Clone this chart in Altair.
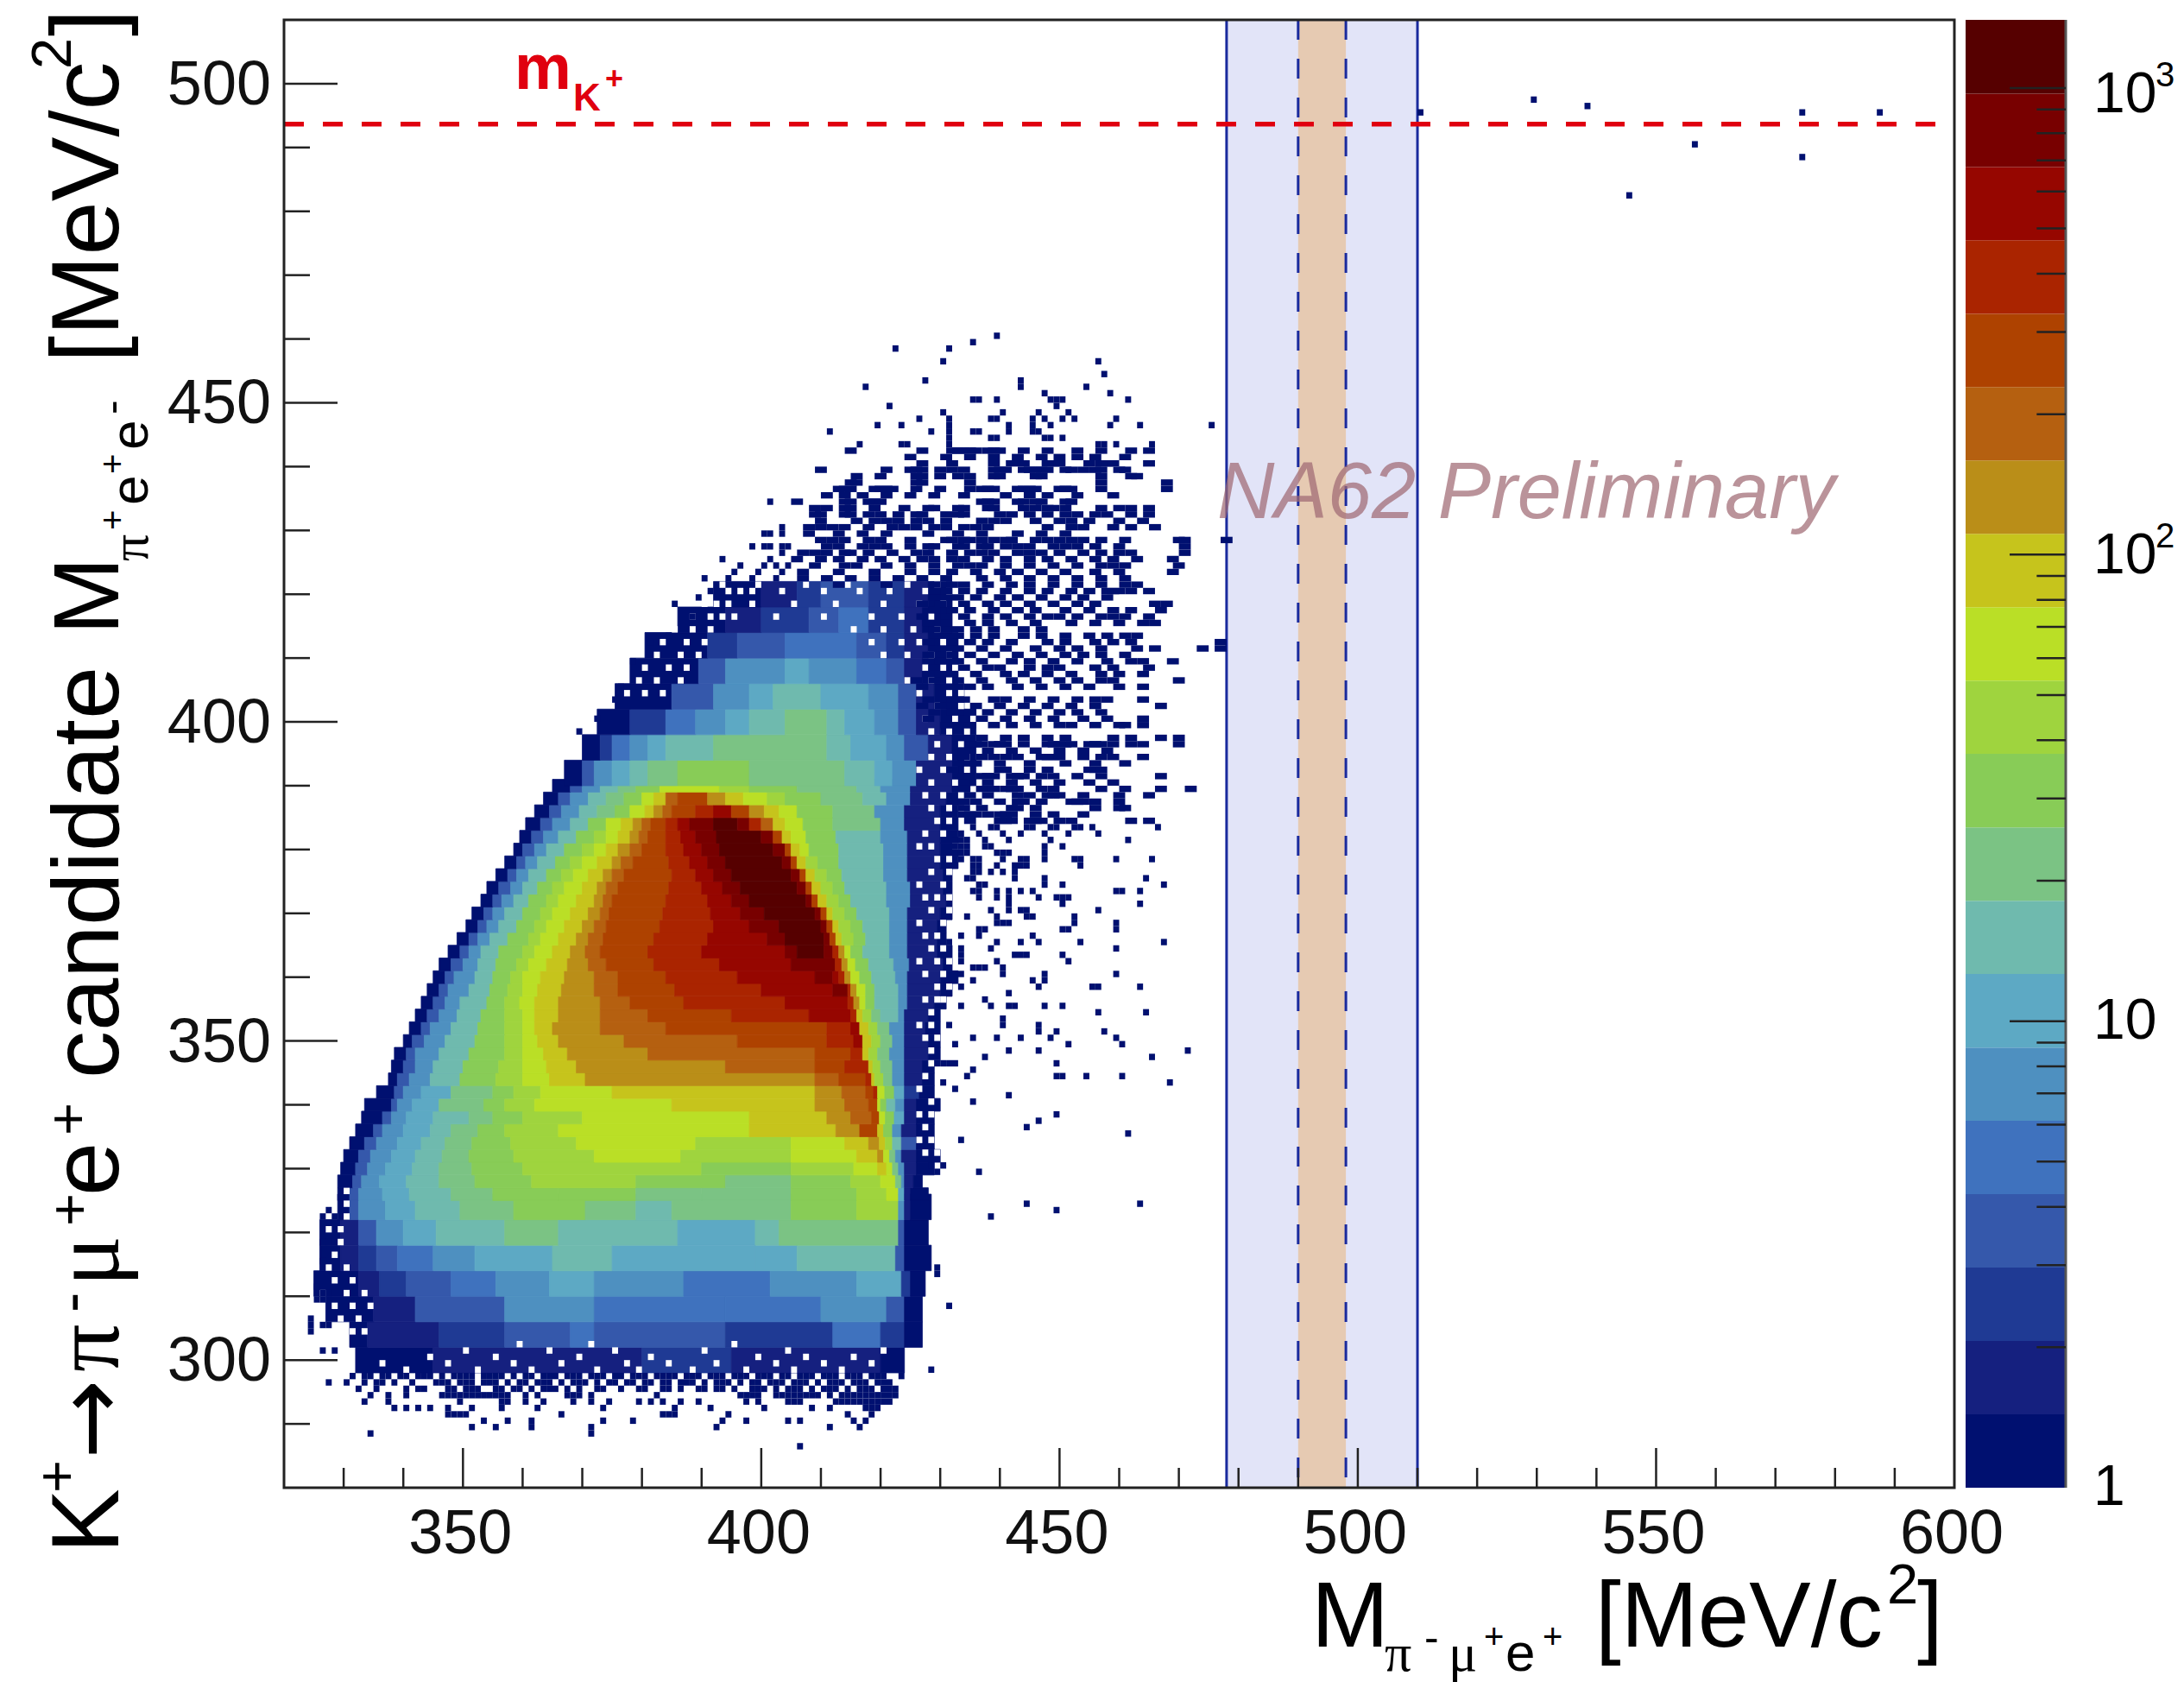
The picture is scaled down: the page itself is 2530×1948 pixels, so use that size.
import altair as alt
import pandas as pd

alt.data_transformers.disable_max_rows()

PALETTE = ["#001070","#15207F","#1F3A94","#3558AB","#3F72BE","#4E90C0","#5DA9C4","#6FBAAE","#7BC384","#88CC57",
           "#9FD43E","#BADF26","#C6C41C","#BA8E18","#B56010","#AE4200","#AA2400","#960600","#780000","#560000"]
BAND_EDGES = [1,1.436,2.063,2.964,4.257,6.115,8.78,12.62,18.12,26.03,37.4,53.7,77.1,110.8,159.1,228.6,328,471.6,677,973,1400]
BAR_TICKS_MINOR = [2,3,4,5,6,7,8,9,20,30,40,50,60,70,80,90,200,300,400,500,600,700,800,900]
BAR_TICKS_MAJOR = [10,100,1000]

# dense body: (centre y, half height, run starts, run levels, end of the last run)
L24 = [0,3,5,7,9,10,11,12,13,14,15,16,17,18,19,18,15,12,10,9,7,5,1,0]
ROWS = [
(300,2,[332,345,380,395,420],[0,1,2,1,0],424),
(304,2,[331,334,346,357,368,372,394,412,420,424],[0,1,2,3,4,3,2,4,2,0],427),
(308,2,[327,335,342,357,372,394,410,421,424],[0,1,3,5,4,4,5,3,0],427),
(312,2,[325,332.5,336,340.5,348,355.5,364.5,372,387,401.5,416,423.5,425],[0,1,2,3,4,5,6,5,4,5,6,2,0],427.5),
(316,2,[326,329.5,332.5,335.5,339,345,352,365,375,399,406,422.5,424],[0,1,2,3,4,5,6,7,6,6,7,3,0],428.5),
(320,2,[326,329.5,332.5,335.5,340,345.5,357,366,386,399,403,423,424],[0,1,3,5,6,7,8,7,6,7,8,3,0],428),
(324,2,[329,331,332.5,337,342,349.5,358.5,370.5,379,385,405,416,423,424,425],[0,3,5,6,7,8,9,8,7,8,9,10,5,1,0],428.5),
(326,1,[329,331,332.5,336.5,341,348,355,366,379,390,405,416,421,423,424,425],[0,3,5,6,7,8,9,9,8,8,9,10,11,6,1,0],428),
(328,1,[329,331.5,333,336,340.5,346,352,361.5,379,394,405,415,420,422.5,423.5,424,425.5],[0,3,5,6,7,8,9,10,9,8,9,10,11,8,5,1,0],427),
(330,1,[329.5,332,334,337,341.5,346,351.5,360,390,405,415.5,419.5,421,422,423,424,426],[0,3,5,6,7,8,9,10,9,10,11,12,11,8,5,1,0],429),
(332,1,[330,332.5,334.5,338,342,346.5,351,358.5,372,386.5,405,416,419.5,420.5,421.5,422.5,423.5,426],[0,3,5,6,7,8,9,10,11,10,11,12,13,11,8,5,1,0],430),
(334,1,[331,333.5,335.5,339,343,347,351.5,358,369,389,405,414,418,419.8,420.8,422,423.5,426],[0,3,5,6,7,8,9,10,11,10,11,12,13,12,10,7,3,0],429),
(336,1,[332,335,336.5,340,344.5,348,352.5,357,366,398,412.5,416.5,419.5,420.5,422,423.5,426],[0,3,5,6,7,8,9,10,11,12,13,15,12,9,5,1,0],429),
(338,1,[333,336.5,338,340.5,345,351,355,360,370,398,411,415,418.5,419.8,420.8,422.3,424,426],[0,3,5,6,7,8,9,10,11,12,13,14,15,11,9,6,1,0],429),
(340,1,[333.5,338,339,341.5,346,353.5,357,362,385,409,414,418,419.5,420,421,422.5,424,426],[0,3,5,6,8,9,10,11,12,13,14,15,11,9,7,5,1,0],430),
(342,1,[335.5,338.5,340,343,348,355,358.5,363,375,409,413.5,417.5,418.8,419.5,420.7,422.3,424,426.5],[0,3,5,6,8,9,10,11,12,13,14,15,16,11,9,6,2,0],429),
(344,1,[337.5,339,341,344.5,349.5,355.5,360,364.5,370.5,409,413,417.5,418.5,419,420.5,422,424,427],[0,3,5,7,9,10,11,12,13,14,15,16,12,10,8,5,1,0],429),
(346,1,[338,340,342,345,350,356,360,364,369,394,409,414,418,418.7,420,422,424,427],[0,3,5,7,9,10,11,12,13,14,15,16,12,10,8,5,1,0],429),
(348,1,[338.5,340.5,342,346,351,357,360,363.5,367.5,381,409,415,417,418,419.5,421.5,424,428],[0,3,5,7,9,10,11,12,13,14,15,16,12,10,8,5,1,0],430),
(350,1,[340,341.5,343.5,347,352,357,360,362.5,366,377,396,411,415.5,417,418.5,420,422,424,428],[0,3,5,7,9,10,11,12,13,14,15,16,17,12,10,8,5,1,0],430),
(352,1,[341,343,344.5,348,352.5,357,360,362,365,373,384,411,415,416.5,418,419.5,421.5,424,427.5],[0,3,5,7,9,10,11,12,13,14,15,16,17,12,10,8,5,1,0],430),
(354,1,[342,344,346,349,353,357,360,362,366,373,381,395,408,415,416,417,418.5,420,423,424,428],[0,3,5,7,9,10,11,12,13,14,15,16,17,16,12,10,8,7,5,1,0],430),
(356,1,[343,345,347,349.5,354,357,359.5,362,366,373,378,387,404,414.5,415.5,416.5,417.5,419,423,424.5,429],[0,3,5,7,9,10,11,12,13,14,15,16,17,16,13,11,9,7,5,1,0],431),
(358,1,[344,346,347.5,351,354.5,357.5,360,362.5,366.5,372,376,385.5,400,412,414.5,415,416,417.5,419,423,424.5,430],[0,3,5,7,9,10,11,12,13,14,15,16,17,18,16,13,11,9,7,5,1,0],432),
(360,1,[345,347,348.5,352,355,358,360,363,367,372,376,384,396,409,412,413,414,415,416.5,418.5,422.5,424.5,430],[0,3,5,7,9,10,11,12,13,14,15,16,17,18,17,16,13,11,9,7,5,1,0],433),
(362,1,[346,348,350,352.5,355.5,359,361,364,367.5,371,374,382,393,405,412.4,413.5,414.5,415.8,418,422.2,424.8,430.5],[0,3,5,7,9,10,11,12,13,14,15,16,17,18,16,13,11,9,7,5,1,0],432),
(364,1,[347.5,349.5,351,353,356,360,362,365,368,370.5,373,381,390,404,406,410.5,412,413,414,415,417,421.5,424.5,429.5],[0,3,5,7,9,10,11,12,13,14,15,16,17,18,19,18,16,13,11,9,7,5,1,0],432),
(366,1,[349,351,352.5,354.5,357.5,361,363,366,369,371,373.5,382,391,401,404,410.5,411.5,412.5,413.5,415.5,417.5,421.5,424.5,429.5],L24,431),
(368,1,[350.5,352.5,354,356,359,362,364,367,370,372,374,383,392,398,403,410,411,412,413,415,417,421.5,424.5,429.5],L24,431),
(370,1,[351.5,353.5,355,357,360,363,365,368,371,373,374.5,383.5,391.5,396.5,400.5,409,410,411,412,414,416,421.5,424.5,430],L24,432),
(372,1,[353,355,356.5,358.5,361,364,366,369,372,373.5,375,384,391,395,398,407.5,408.5,409.5,411,413,415,421,425,431],L24,432),
(374,1,[354,356,358,360,362.5,365,367,370,372.5,374,376,384.5,390,393.5,396.5,406,407.5,408.5,410,412,414,421,425,430.5],L24,432),
(376,1,[355.5,357.5,359,361,364,366.5,368.5,371,373.5,375,377,385,389,392,395,405,406.5,407.5,409,411,413.5,420.5,424.5,430.5],L24,432),
(378,1,[357,359,360.5,362.5,365.5,368,370,372.5,375,376.5,378.5,384.5,388,391,394,403.5,405,406,407.5,409.5,413,420.5,424.5,430],L24,433),
(380,1,[358.5,360,362,364,367,370,372,374,376,378,380,384,387,390,393,402,404,405,406.5,408,413,420.5,424.5,430],[0,3,5,7,9,10,11,12,13,14,15,16,17,18,19,18,15,12,11,9,7,5,1,0],433),
(382,1,[359.5,361.5,363.5,366,369,372,374,376,378,379.5,381,384,386.5,389,392.5,400,402,403.5,405,407.5,412.5,420,424.5,430],[0,3,5,7,9,10,11,12,13,14,15,16,17,18,19,18,15,12,11,9,7,5,1,0],433),
(384,1,[360.5,363,365,368,371,374,376.5,378.5,380,381.5,384,386,388,392,396,398,400,402,404,407,412,420,424,430],[0,3,5,7,9,11,12,13,14,15,16,17,18,19,18,16,14,12,11,9,8,5,1,0],433),
(386,1,[362,364.5,366.5,369.5,372.5,375.5,378,380.5,382,383.5,385,389,392,395,398,400.5,403,406,412,419,424,430],[0,3,5,7,8,9,11,12,13,14,15,16,17,15,13,12,11,9,8,5,1,0],433),
(388,1,[363.5,366,368,371,374,377,380,382,384,386,391,394,397,401,404,410,417,421,425,431],[0,3,5,7,8,9,11,12,14,15,13,12,11,10,9,8,7,5,1,0],434),
(390,1,[365,368,370,373,376,379,383,393,398,406,416,420,425,432],[0,3,5,7,8,9,11,10,9,8,7,5,1,0],435),
(392,2,[367,370,372,375,378,381,386,398,414,419,422,426,433],[0,3,5,6,7,8,9,8,7,6,5,1,0],436),
(396,2,[370,373,375,378,381,384,392,411,415,421,424,428,432],[0,2,4,5,6,7,8,7,6,5,3,1,0],436),
(400,2,[372.5,378,384,389,394,398,404,411,414,419,423,426,430],[0,2,4,5,6,7,8,7,6,5,3,1,0],436),
(404,2,[375.5,385,392,398,402,410,418,423,426,429],[0,3,5,6,7,6,5,3,1,0],434),
(408,2,[378,389.5,394,404,408,416,421,424,427],[0,3,5,6,5,4,3,1,0],433),
(412,2,[380.5,391,396,404,416,421,424,428],[0,2,3,4,3,2,1,0],433),
(416,2,[386,394,400,408,413,418,424,427],[0,1,2,3,4,2,1,0],432),
(420,2,[392,400,406,410,418,424,428],[0,1,2,3,2,1,0],432),
]

# empty bins inside the mottled fringes of the body: (y, list of x)
GAPS = [(298,[340,352,361,372,379,388,397,405,413]),(299,[336,347,358,366,377,384,392,402,410,418]),(300,[344,355,369,381,399,407,415]),
(301,[350,364,375,390,404,420]),(302,[359,371,395]),
(304,[331,333]),(306,[329,332]),(308,[328,331,334]),(310,[326,330,333]),(312,[328,331]),(314,[327,330]),(316,[328]),(318,[329]),(320,[327,329]),(322,[330]),(324,[330]),(326,[330]),
(332,[427,429]),(334,[426,428]),(336,[427]),(338,[426,428]),(340,[428]),(342,[426]),(344,[427]),(346,[428]),
(348,[428]),(350,[427,429]),(352,[426,428]),(354,[428]),(356,[427,429,430]),(358,[429,431]),
(360,[427,430]),(362,[426,429,431]),(364,[428,430]),(366,[427,429]),(368,[426,430]),(370,[428,431]),(372,[427,429,431]),(374,[426,430]),
(376,[428,431]),(378,[429,431]),(380,[426,428,432]),(382,[427,430]),(384,[429,431]),(386,[428,431]),(388,[427,430,433]),(390,[428,432]),
(392,[426,430,434]),(394,[428,431,434]),(396,[429,433]),(398,[428,431,434]),(400,[427,432,435]),(402,[429,433]),(404,[377,380,383,426,431,433]),
(406,[379,382,386,424,428,431]),(408,[380,384,387,427,430,432]),(410,[382,386,389,420,424,428,431]),(412,[383,387,390,418,423,426,430]),(414,[385,388,391,415,420,425,429]),
(416,[388,391,393,395,402,410,418,423,428]),(418,[390,392,394,398,405,412,420,426,430]),(420,[394,396,398,403,410,416,421,427,431]),(421,[393,399,407,414,424,429])]

# isolated filled bins, 1 MeV: (y, list of x)
CELLS = [
(286,[406]),(288,[334,371]),(289,[351,355,361,371,392,411,416]),
(290,[353,357,361,373,378,393,397,404,406,415,417]),
(291,[347,348,349,350,366,383,384,385,394,414,418]),
(292,[338,340,342,344,347,351,356,362,373,385,391,400,408,411,417,418,419]),
(293,[333,337,349,356,357,360,363,368,371,374,379,381,383,386,389,397,399,404,405,406,412,413,414,415,416,417,418,419,420,421]),
(294,[334,337,340,346,347,348,349,350,351,352,353,354,355,356,357,360,362,367,368,369,371,382,396,397,398,399,402,403,404,405,406,407,408,409,411,413,414,415,416,417,418,419,420,421,422]),
(295,[332,335,340,342,343,347,348,350,351,352,355,356,358,359,361,363,364,365,367,369,372,373,376,379,380,383,384,386,389,390,392,393,395,398,399,400,402,404,405,406,408,410,411,412,414,416,417,418,420,421,422]),
(296,[327,330,333,335,336,338,341,345,346,347,349,350,351,353,354,355,357,359,360,362,363,364,366,368,369,370,372,374,375,377,378,380,381,383,384,386,387,388,390,392,393,394,396,398,399,401,402,403,405,406,407,409,411,412,413,415,416,417,419,420,421]),
(297,[331,333,334,336,337,339,340,342,343,344,346,348,349,350,351,353,354,355,356,358,360,361,363,364,365,367,368,369,371,372,373,375,376,378,379,380,382,383,384,385,387,388,389,391,392,393,395,396,397,399,400,401,403,404,406,407,408,410,411,412,414,415,416,418,419,420,423]),
(298,[428]),(301,[326,328]),(304,[324]),(305,[324,326,327]),(306,[324]),(308,[431]),(309,[325,326]),(310,[326,327]),(311,[325]),
(313,[429]),(314,[429]),(315,[326]),(318,[326,327]),(321,[327]),(322,[326,328,438]),(323,[327,449]),(324,[444,463]),
(329,[429,436]),(330,[428,430]),(334,[433]),(335,[461]),(336,[444]),(337,[446]),(338,[449]),(340,[435]),(341,[441]),(342,[432]),
(343,[430,468]),(344,[434,449,450,454,460]),(345,[435]),(346,[429,430,431,432,449]),(347,[437,465]),(348,[441,446,471]),
(349,[432,451,460]),(350,[435,439,443,448,459]),(351,[446,449,457]),(352,[431,440,446]),(353,[440]),(354,[456,464]),
(355,[433,438,441,442,447,450]),(356,[437]),(357,[431,441]),(358,[433,446,455,456,463]),(359,[435,445,447]),
(360,[432,433,440,447,459]),(361,[435,436,437,440]),(362,[433,439,451]),(363,[433,442,443,444,450]),(364,[433,438,459]),
(365,[431,439,443,446,453,467]),(366,[433,436,445]),(367,[436,437,450,451,459]),(368,[439,440,441,452,459]),
(369,[434,439,444,445,452]),(370,[438,441,443,444,456]),(371,[441,450,463]),(372,[436,439,441,446,449,450,451]),
(373,[435,436,439,441,443,445,459,460,463]),(374,[436,437,447,450,467]),(375,[434,435,442,447,464]),(376,[435,436,438,440,442]),
(377,[432,435,436,439,442,443,444,453]),(378,[433,435,436,440,443,444,447,452,453,459,465]),(379,[432,433,434,439,440,441,447]),
(380,[432,433,434,437,438,447,450]),(381,[432,433,434,437,441,448,461]),(382,[433,436,440,443,447,451,456]),(383,[435,438,439,444,445,448,449,452,453,455,466]),
(384,[434,439,440,441,444,445,446,449,451,461,464]),(385,[433,434,435,437,439,440,441,445,448,453]),
(386,[433,436,441,442,445,455,459,460]),(387,[433,435,439,442,443,446,451,452,453,455,459]),
(388,[434,437,442,444,447,448,449,453,459,464]),(389,[433,436,437,438,440,441,442,446,448,456,460,466,471]),
(390,[433,437,441,445,449,454,458]),(391,[432,433,434,436,437,438,441,442,443,446,448,452,456,466]),(392,[431,439,440,444,447,454,455,456]),
(393,[432,435,439,444,450,455,460]),(394,[433,436,438,440,442,446,447,448,449,453,456,458,463]),(395,[433,437,441,445,449,453,457]),
(396,[434,435,436,438,439,440,443,447,448,449,450,451,454,455,456,458,461,463,469]),
(397,[432,436,440,443,447,450,458,461,466,469]),(398,[369]),(399,[430,434,438,441,445,449,451,455,459,460,463]),
(400,[372,427,433,436,440,444,448,453,457,463]),(401,[428,431,434,437,441,445,449,452,456]),
(402,[426,429,435,439,443,447,451,455,466]),(403,[375,427,431,433,438,440,444,448,452,455,457,463]),
(405,[376,426,430,434,437,442,446,450,454,459,463]),(406,[425,428,432,436,441,445,449,452,456,458,469]),
(407,[427,431,435,440,443,447,451,456,459,463]),(408,[428,433,437,439,444,447,449,455,458,464]),
(409,[378,429,432,436,441,444,448,452,457,461,463,468]),(410,[427,431,434,438,442,446,450,453,456,460]),
(411,[428,432,436,440,445,449,452,456,462,465,473,476]),(412,[381,427,431,434,437,441,447,450,455,458,461,476]),
(413,[384,428,432,435,438,443,446,450,454,457,460,462]),(414,[428,432,435,438,443,446]),
(415,[427,430,434,437,441,445,451,455,459,463,465]),(416,[388,426,430,433,437,440,444,447,449,452,456,458,460,464]),
(417,[428,431,434,438,442,445,450,454,458,461,466]),(418,[385,426,429,433,437,440,444,448,452,455,465,467]),
(419,[389,428,432,435,439,442,446,450,453,457]),(420,[391,428,430,433,436,440,444,447,451,454,457,458,459,461,464]),
(421,[412,420,428,431,433,437,441,444,448,452,456,460,462]),(422,[390,394,398,402,406,410,414,418,422,426,430,436,440,444,448,452,456,460]),
(423,[395,399,403,406,412,418,424,428,431,435,439,442,446,450,455,459,468]),
(424,[396,400,402,404,408,413,415,420,424,428,432,434,436,440,444,448,452,456,458,460,469]),
(425,[393,401,405,409,412,416,419,423,426,428,431,433,437,440,444,447,451,455,458,462,468]),
(426,[403,406,408,410,413,414,417,421,425,427,431,434,436,438,442,444,446,449,453,456,459,461,470]),
(427,[398,400,401,403,404,410,412,416,418,420,424,427,428,432,433,436,437,440,442,444,448,450,452,455,459,470]),
(428,[409,411,413,417,419,424,430,431,433,434,436,438,440,441,445,447,449,451,453,456,460,469,470,477]),
(429,[400,401,403,407,412,416,420,427,432,436,442,446,450]),
(430,[403,407,409,411,413,417,421,423,425,428,430,433,435,437,447,451,453,458,461,465]),
(431,[409,415,418,420,422,425,427,430,436,438,440,445,449,451,454,459,463]),
(432,[408,409,413,414,417,419,422,425,426,430,432,433,439,441,444,447,450,452,455,457,461,464]),
(433,[408,410,413,414,418,423,427,428,432,433,437,438,443,445,447,448,450,456,459,461,464]),
(434,[401,405,413,414,417,418,419,436,437,438,442,443,445,446,450,451]),
(435,[410,413,416,420,424,428,433,440,444,447,452,458]),
(436,[412,413,414,418,419,420,421,425,429,434,436,437,438,442,443,444,445,449,450,451,456,467]),
(437,[414,415,425,426,434,456,467]),(438,[415,419,425,426,429,432,434,438,439,445,446,456,461,462]),
(439,[409,420,424,425,426,429,431,433,438,439,440,443,444,445,446,447,450,451,453,455,456,459,460]),
(440,[426,431,438,441,443,447,448,449,454,456,457,458,464]),(441,[424,430,434,438,442,446,449,452,455,460]),
(442,[414,426,431,432,433,434,435,437,438,439,443,447,452,456,461,464]),
(443,[416,423,424,431,456,457,459,465]),(444,[431,438,439,447,448,450]),(445,[411,428,431,435,436,441,445,446]),
(446,[419,423,431,441,445,448,458,463,475]),(447,[426,431,438,439,445,447,450,452,459]),(448,[430,440,446,451]),(449,[421,449]),
(450,[435,436,439,448,449,450,461]),(451,[447,458]),(452,[417,443,454]),(453,[427,443]),(454,[457]),(456,[430,456]),
(458,[422,431]),(459,[435]),(460,[439]),
(495,[510,574,587]),(497,[529]),(496,[538]),(490,[556]),(482,[545]),(488,[574]),
]

X_TICK_LABELS = [350,400,450,500,550,600]
X_TICK_MINOR = [330,340,360,370,380,390,410,420,430,440,460,470,480,490,510,520,530,540,560,570,580,590]
Y_TICK_LABELS = [300,350,400,450,500]
Y_TICK_MINOR = [290,310,320,330,340,360,370,380,390,410,420,430,440,460,470,480,490]
WIDE_WINDOW = (478, 510)
NARROW_WINDOW = (490, 498)
KAON_MASS = 493.677

W, H = 1935, 1700
OX, OY = 329, 23   # plot origin on the page
FONT = "Liberation Sans"
SERIF = "Liberation Serif"
xs = alt.Scale(domain=[320, 600], range=[0, W], nice=False, zero=False)
ys = alt.Scale(domain=[280, 510], range=[H, 0], nice=False, zero=False)
BLACK = "#111111"

heat = []
for y, hh, starts, levels, end in ROWS:
    edges = starts + [end]
    for i, lev in enumerate(levels):
        heat.append(dict(x=edges[i], x2=edges[i+1], y=y-hh, y2=y+hh, lev=lev, order=y))
heat = pd.DataFrame(heat)
gaps = pd.DataFrame([dict(x=x, x2=x+1, y=y, y2=y+1) for y, row in GAPS for x in row])
# in the crowded upper fringe neighbouring filled bins merge into two-bin runs
cells = pd.DataFrame([dict(x=x, x2=x + (2 if (384 <= y <= 442 and x >= 405) else 1), y=y, y2=y+1) for y, row in CELLS for x in row])
cscale = alt.Scale(domain=list(range(20)), range=PALETTE)


def X(f="x"):
    return alt.X(f + ":Q", scale=xs, axis=None)


def Y(f="y"):
    return alt.Y(f + ":Q", scale=ys, axis=None)


def win(lo, hi, color):
    return alt.Chart(pd.DataFrame({"x": [lo], "x2": [hi], "y": [280], "y2": [510]})).mark_rect(color=color).encode(
        x=X(), x2="x2:Q", y=Y(), y2="y2:Q")


def vline(vals, dash=None):
    kw = dict(color="#1A2A9E", strokeWidth=3)
    if dash:
        kw["strokeDash"] = dash
    return alt.Chart(pd.DataFrame({"x": vals})).mark_rule(**kw).encode(x=X())


heat_layer = alt.Chart(heat).mark_rect(strokeWidth=0.8).encode(
    x=X(), x2="x2:Q", y=Y(), y2="y2:Q",
    color=alt.Color("lev:O", scale=cscale, legend=None),
    stroke=alt.Color("lev:O", scale=cscale, legend=None),
    order="order:Q")
gap_layer = alt.Chart(gaps).mark_rect(color="white").encode(x=X(), x2="x2:Q", y=Y(), y2="y2:Q")
cell_layer = alt.Chart(cells).mark_rect(color=PALETTE[0]).encode(x=X(), x2="x2:Q", y=Y(), y2="y2:Q")
red = alt.Chart(pd.DataFrame({"x": [320], "x2": [600], "y": [KAON_MASS]})).mark_rule(
    color="#E0000F", strokeWidth=5.5, strokeDash=[23, 22]).encode(x=X(), x2="x2:Q", y=Y())


def xticks(vals, n):
    return alt.Chart(pd.DataFrame({"t": vals})).mark_rule(color="#222222", strokeWidth=2.5).encode(
        x=alt.X("t:Q", scale=xs, axis=None), y=alt.value(H), y2=alt.value(H - n))


def yticks(vals, n):
    return alt.Chart(pd.DataFrame({"t": vals})).mark_rule(color="#222222", strokeWidth=2.5).encode(
        y=alt.Y("t:Q", scale=ys, axis=None), x=alt.value(0), x2=alt.value(n))


frame = alt.Chart(pd.DataFrame({"x": [320], "x2": [600], "y": [280], "y2": [510]})).mark_rect(
    fillOpacity=0, stroke="#222222", strokeWidth=3).encode(x=X(), x2="x2:Q", y=Y(), y2="y2:Q")

x_labels = alt.Chart(pd.DataFrame({"t": X_TICK_LABELS})).mark_text(
    font=FONT, fontSize=72, align="center", baseline="alphabetic", color=BLACK, dx=-3).encode(
    x=alt.X("t:Q", scale=xs, axis=None), y=alt.value(1799 - OY), text="t:Q")
y_labels = alt.Chart(pd.DataFrame({"t": Y_TICK_LABELS})).mark_text(
    font=FONT, fontSize=72, align="right", baseline="middle", color=BLACK, dy=2).encode(
    y=alt.Y("t:Q", scale=ys, axis=None), x=alt.value(-15), text="t:Q")


def txt(s, x, y, size, font=FONT, angle=0, color="#000000", **kw):
    mk = dict(text=s, font=font, fontSize=size, angle=angle, color=color, align="left", baseline="alphabetic")
    mk.update(kw)
    return alt.Chart(pd.DataFrame({"a": [0]})).mark_text(**mk).encode(x=alt.value(x - OX), y=alt.value(y - OY))


def vt(s, bx, sy, size, font=FONT):
    return txt(s, bx, sy, size, font=font, angle=270)


texts = [
    # y title, reading upward
    vt("K", 137, 1799, 112), vt("+", 88, 1729, 65), vt("→", 142, 1690, 110, "DejaVu Sans"), vt("π", 137, 1589, 110, SERIF),
    vt("-", 106, 1520, 70), vt("μ", 137, 1490, 110, SERIF), vt("+", 103, 1420, 65), vt("e", 137, 1385, 112),
    vt("+", 101, 1315, 65), vt("candidate", 137, 1249, 110), vt("M", 137, 735, 108), vt("π", 171, 650, 62, SERIF),
    vt("+", 144, 614, 40), vt("e", 171, 585, 62), vt("+", 144, 549, 40), vt("e", 171, 521, 62), vt("-", 146, 480, 50),
    vt("[MeV/c", 137, 420, 112), vt("2", 82, 80, 65), vt("]", 137, 42, 112),
    # x title
    txt("M", 1519, 1907, 108), txt("π", 1604, 1935, 62, SERIF), txt("-", 1650, 1913, 50), txt("μ", 1678, 1935, 62, SERIF),
    txt("+", 1719, 1909, 40), txt("e", 1744, 1935, 62), txt("+", 1787, 1909, 40),
    txt("[MeV/c", 1848, 1907, 107), txt("2", 2186, 1857, 65), txt("]", 2221, 1907, 107),
    # annotations
    txt("m", 596, 103, 74, color="#E0000F", fontWeight="bold"), txt("K", 664, 128, 44, color="#E0000F", fontWeight="bold"),
    txt("+", 701, 103, 36, color="#E0000F", fontWeight="bold"),
    txt("NA62 Preliminary", 1410, 600, 92, color="#A06A74", fontStyle="italic", opacity=0.72),
]

main = alt.layer(
    win(*WIDE_WINDOW, "#E2E4F8"), win(*NARROW_WINDOW, "#E6CAB2"),
    vline(list(WIDE_WINDOW)), vline(list(NARROW_WINDOW), [23, 22]),
    heat_layer, gap_layer, cell_layer, red,
    xticks(X_TICK_MINOR, 23), xticks(X_TICK_LABELS[:-1], 46), yticks(Y_TICK_MINOR, 30), yticks(Y_TICK_LABELS, 62),
    frame, x_labels, y_labels, *texts,
)

# colour bar
bx = alt.Scale(domain=[0, 1], range=[1948, 2064], nice=False, zero=False)
by = alt.Scale(type="log", domain=[1, 1400], range=[H, 0], nice=False)
bands = pd.DataFrame([dict(x=0, x2=1, y=BAND_EDGES[i], y2=BAND_EDGES[i+1], lev=i) for i in range(20)])
bar = alt.Chart(bands).mark_rect().encode(
    x=alt.X("x:Q", scale=bx, axis=None), x2="x2:Q",
    y=alt.Y("y:Q", scale=by, axis=None), y2="y2:Q",
    color=alt.Color("lev:O", scale=cscale, legend=None))


def bticks(vals, start):
    return alt.Chart(pd.DataFrame({"t": vals, "x": [start] * len(vals), "x2": [1] * len(vals)})).mark_rule(
        color="#222222", strokeWidth=2.5).encode(
        x=alt.X("x:Q", scale=bx, axis=None), x2="x2:Q", y=alt.Y("t:Q", scale=by, axis=None))


edge = alt.Chart(pd.DataFrame({"x": [1]})).mark_rule(color="#555555", strokeWidth=3).encode(
    x=alt.X("x:Q", scale=bx, axis=None))


def blabel(s, val, x, size=66, dy=0):
    return alt.Chart(pd.DataFrame({"t": [val]})).mark_text(
        text=s, font=FONT, fontSize=size, align="left", baseline="middle", color="#000000", dy=dy).encode(
        x=alt.value(x - OX), y=alt.Y("t:Q", scale=by, axis=None))


cb = alt.layer(bar, edge, bticks(BAR_TICKS_MINOR, 0.71), bticks(BAR_TICKS_MAJOR, 0.44),
               blabel("1", 1, 2425), blabel("10", 10, 2425), blabel("10", 100, 2425, dy=2), blabel("10", 1000, 2425, dy=8),
               blabel("2", 100, 2497, 40, -20), blabel("3", 1000, 2497, 40, -14))

chart = alt.layer(main, cb).resolve_scale(x="independent", y="independent").properties(
    width=2193, height=H,
    autosize=alt.AutoSizeParams(type="none"),
    padding={"left": OX - 8, "top": OY - 8, "right": 0, "bottom": 1940 - (OY - 8) - H},
    background="white",
).configure_view(stroke=None)

chart.save("out.html", embed_options={"renderer": "svg", "actions": False})
